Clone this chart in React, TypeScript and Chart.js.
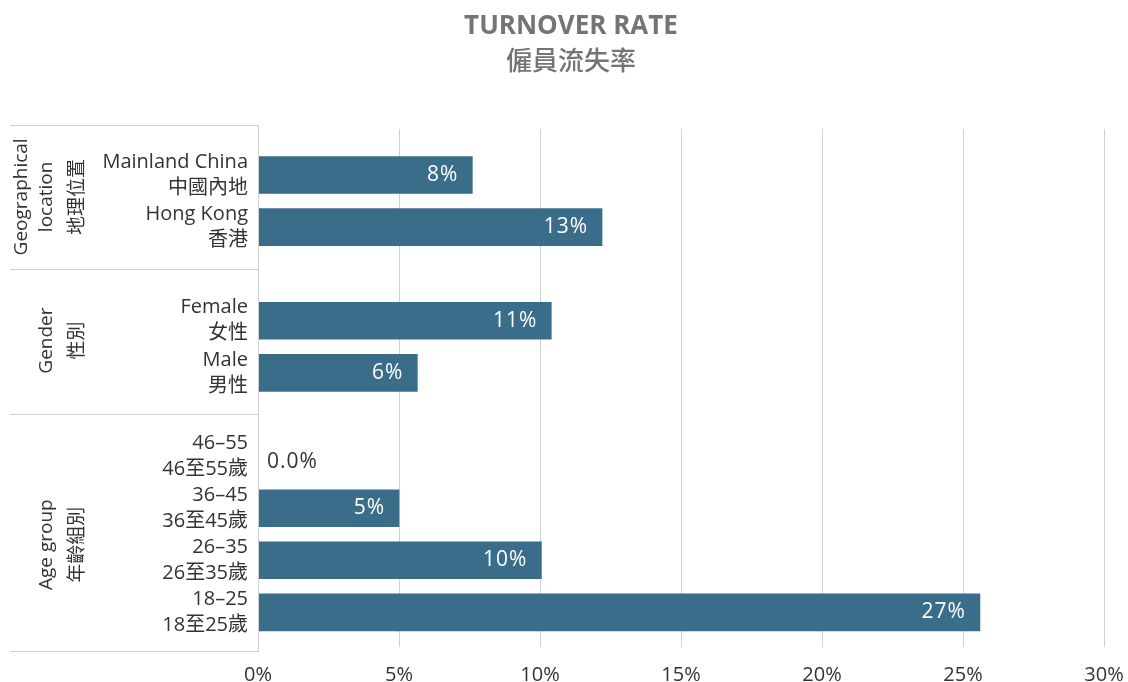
import React, { useEffect, useRef } from 'react';
import { Chart, registerables } from 'chart.js';

Chart.register(...registerables);

// ---- data ----
const categories: string[][] = [
  ['Mainland China', '中國內地'],
  ['Hong Kong', '香港'],
  ['Female', '女性'],
  ['Male', '男性'],
  ['46–55', '46至55歲'],
  ['36–45', '36至45歲'],
  ['26–35', '26至35歲'],
  ['18–25', '18至25歲'],
];
const turnoverValues = [7.6, 12.2, 10.4, 5.65, 0, 5.0, 10.05, 25.6];
const valueLabels = ['8%', '13%', '11%', '6%', '0.0%', '5%', '10%', '27%'];
const xTickValues = [0, 5, 10, 15, 20, 25, 30];
const groupNames: string[][] = [
  ['Geographical', 'location', '地理位置'],
  ['Gender', '性別'],
  ['Age group', '年齡組別'],
];
const titleLines = ['TURNOVER RATE', '僱員流失率'];

// ---- layout (row slots on the index axis) ----
const ROW_SLOTS = [0, 5, 14, 19, 27, 32, 37, 42];
const GROUP_BOUNDS = [-4.81, 9, 23, 45.74];
const GROUP_LABEL_SLOTS = [2.1, 15.9, 35.5];
const Y_MIN = -4.42;
const Y_MAX = 45.33;

const FONT = '"Open Sans", "Noto Sans CJK TC", sans-serif';
const BAR_COLOR = '#3a6d8a';
const LINE_COLOR = '#d0d0d0';
const TEXT_COLOR = '#333333';

const panelPlugin = {
  id: 'panelPlugin',
  afterDraw(chart: any) {
    const { ctx, chartArea, scales, width } = chart;
    const y = scales.y;
    ctx.save();
    // title
    ctx.fillStyle = '#747474';
    ctx.textAlign = 'center';
    ctx.textBaseline = 'middle';
    ctx.font = `bold 26px ${FONT}`;
    ctx.fillText(titleLines[0], width / 2 + 7, 27);
    ctx.font = `500 26px "Noto Sans CJK TC", ${FONT}`;
    ctx.fillText(titleLines[1], width / 2 + 7, 60);

    ctx.strokeStyle = LINE_COLOR;
    ctx.lineWidth = 1;
    const left = Math.round(chartArea.left) + 0.5;
    GROUP_BOUNDS.forEach((v) => {
      const py = Math.round(y.getPixelForValue(v)) + 0.5;
      ctx.beginPath();
      ctx.moveTo(10, py);
      ctx.lineTo(left, py);
      ctx.stroke();
    });
    ctx.beginPath();
    ctx.moveTo(left, Math.round(y.getPixelForValue(GROUP_BOUNDS[0])));
    ctx.lineTo(left, Math.round(y.getPixelForValue(GROUP_BOUNDS[3])) + 1);
    ctx.stroke();

    // group labels (rotated)
    ctx.fillStyle = TEXT_COLOR;
    ctx.font = `19px ${FONT}`;
    groupNames.forEach((lines, g) => {
      const py = y.getPixelForValue(GROUP_LABEL_SLOTS[g]);
      const n = lines.length;
      lines.forEach((line, i) => {
        const fromEnd = n - 1 - i;
        const px = fromEnd === 0 ? 78 : 46.5 - (fromEnd - 1) * 24.5;
        ctx.save();
        ctx.translate(px, py);
        ctx.rotate(-Math.PI / 2);
        ctx.fillText(line, 0, 0);
        ctx.restore();
      });
    });
    ctx.restore();
  },
  afterDatasetsDraw(chart: any) {
    const { ctx } = chart;
    const meta = chart.getDatasetMeta(0);
    ctx.save();
    ctx.font = `21px ${FONT}`;
    ctx.textBaseline = 'middle';
    try { (ctx as any).letterSpacing = '1px'; } catch (e) {}
    meta.data.forEach((bar: any, i: number) => {
      const v = turnoverValues[i];
      if (v > 0) {
        ctx.fillStyle = '#ffffff';
        ctx.textAlign = 'right';
        ctx.fillText(valueLabels[i], bar.x - 14, bar.y);
      } else {
        ctx.fillStyle = TEXT_COLOR;
        ctx.textAlign = 'left';
        ctx.fillText(valueLabels[i], bar.x + 9, bar.y + 6);
      }
    });
    ctx.restore();
  },
};

export default function App() {
  const canvasRef = useRef<HTMLCanvasElement | null>(null);

  useEffect(() => {
    document.body.style.margin = '0';
    const canvas = canvasRef.current;
    if (!canvas) return;
    Chart.defaults.font.family = FONT;
    const chart = new Chart(canvas, {
      type: 'bar',
      data: {
        datasets: [
          {
            data: turnoverValues.map((v, i) => ({ x: v, y: ROW_SLOTS[i] })) as any,
            backgroundColor: BAR_COLOR,
            barThickness: 37,
            borderWidth: 0,
          },
        ],
      },
      options: {
        animation: false,
        responsive: true,
        maintainAspectRatio: false,
        indexAxis: 'y',
        layout: { padding: { left: 0, right: 24, top: 129, bottom: 0 } },
        plugins: {
          legend: { display: false },
          tooltip: { enabled: false },
          title: { display: false },
        },
        scales: {
          x: {
            type: 'linear',
            min: 0,
            max: 30,
            afterBuildTicks: (s: any) => {
              s.ticks = xTickValues.map((v) => ({ value: v }));
            },
            afterFit: (s: any) => {
              s.height = 35;
              s.paddingLeft = 0;
              s.paddingRight = 0;
            },
            ticks: {
              callback: (v: any) => `${v}%`,
              color: TEXT_COLOR,
              font: { size: 20, family: FONT },
              padding: 16,
              maxRotation: 0,
            },
            grid: { color: LINE_COLOR, drawTicks: false, lineWidth: 1 },
            border: { display: false },
          },
          y: {
            type: 'linear',
            reverse: true,
            offset: false,
            min: Y_MIN,
            max: Y_MAX,
            afterBuildTicks: (s: any) => {
              s.ticks = ROW_SLOTS.map((v) => ({ value: v }));
            },
            afterFit: (s: any) => {
              s.width = 258;
              s.paddingTop = 0;
              s.paddingBottom = 0;
            },
            ticks: {
              callback: (_v: any, i: number) => categories[i],
              color: TEXT_COLOR,
              font: { size: 20, family: FONT, lineHeight: 1.3 },
              padding: 10,
            },
            grid: { display: false, drawTicks: false },
            border: { display: false },
          },
        },
      },
      plugins: [panelPlugin],
    });
    return () => chart.destroy();
  }, []);

  return (
    <div style={{ width: '1128px', height: '682px', position: 'relative' }}>
      <canvas ref={canvasRef} />
    </div>
  );
}
